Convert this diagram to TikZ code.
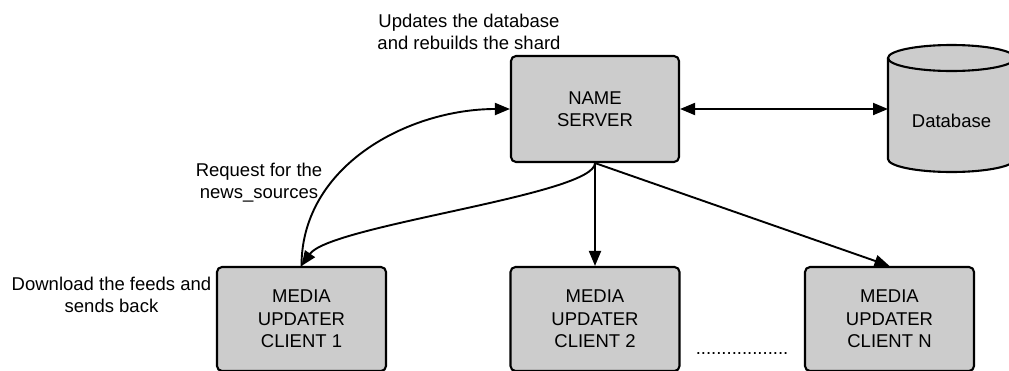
\documentclass[tikz,border=0pt]{standalone}
\usepackage{fontspec}
\setmainfont{Liberation Sans}
\usetikzlibrary{arrows.meta,calc}
\begin{document}
\begin{tikzpicture}[x=1pt,y=-1pt,
  every node/.style={font=\fontsize{18.5}{21.5}\selectfont},
  box/.style={draw=black, line width=2.1pt, fill=boxgray, rounded corners=5pt,
    minimum width=168pt, minimum height=106pt, inner sep=0pt, align=center,
    font=\fontsize{18.5}{22.5}\selectfont},
  caption/.style={align=center, inner sep=0pt},
  link/.style={line width=1.9pt, -{Triangle[length=15pt,width=12pt]}},
  link2/.style={line width=1.9pt, {Triangle[length=15pt,width=12pt]}-{Triangle[length=15pt,width=12pt]}}]
\definecolor{boxgray}{HTML}{CCCCCC}
\useasboundingbox (0,0) rectangle (1009,370);
\clip (0,0) rectangle (1009,370);

% server and clients
\node[box] (ns) at (595,109) {NAME\\SERVER};
\node[box, minimum width=169pt, minimum height=104pt] (c1) at (301.5,319) {MEDIA\\UPDATER\\CLIENT 1};
\node[box, minimum width=169pt, minimum height=104pt] (c2) at (595,319) {MEDIA\\UPDATER\\CLIENT 2};
\node[box, minimum width=169pt, minimum height=104pt] (cn) at (889.5,319) {MEDIA\\UPDATER\\CLIENT N};

% database cylinder
\coordinate (dbw) at (888,109);
\fill[boxgray] (888,58) -- (888,159) arc[start angle=180, end angle=360, x radius=63.5, y radius=-13]
  -- (1015,58) arc[start angle=0, end angle=180, x radius=63.5, y radius=-13] -- cycle;
\draw[line width=2.1pt] (888,58) -- (888,159) arc[start angle=180, end angle=360, x radius=63.5, y radius=-13] -- (1015,58);
\draw[line width=2.1pt] (951.5,58) ellipse[x radius=63.5, y radius=13];
\node[caption] (db) at (951.5,121) {Database};

% captions
\node[caption] (t1) at (469,32) {Updates the database\\and rebuilds the shard};
\node[caption] (t2) at (259,182.5) {Request for the\\news\_sources};
\node[caption] (t3) at (111.5,295) {Download the feeds and\\sends back};
\node[anchor=base, inner sep=0pt] (dots) at (742,354) {..................};

% connectors
\draw[link] (c1.north) .. controls (301.5,165) and (409,109) .. (ns.west);
\draw[link] (ns.south) .. controls (595,195) and (330,225) .. (c1.north);
\draw[link] (ns.south) -- (c2.north);
\draw[link] (ns.south) -- (cn.north);
\draw[link2] (ns.east) -- (dbw);
\end{tikzpicture}
\end{document}
